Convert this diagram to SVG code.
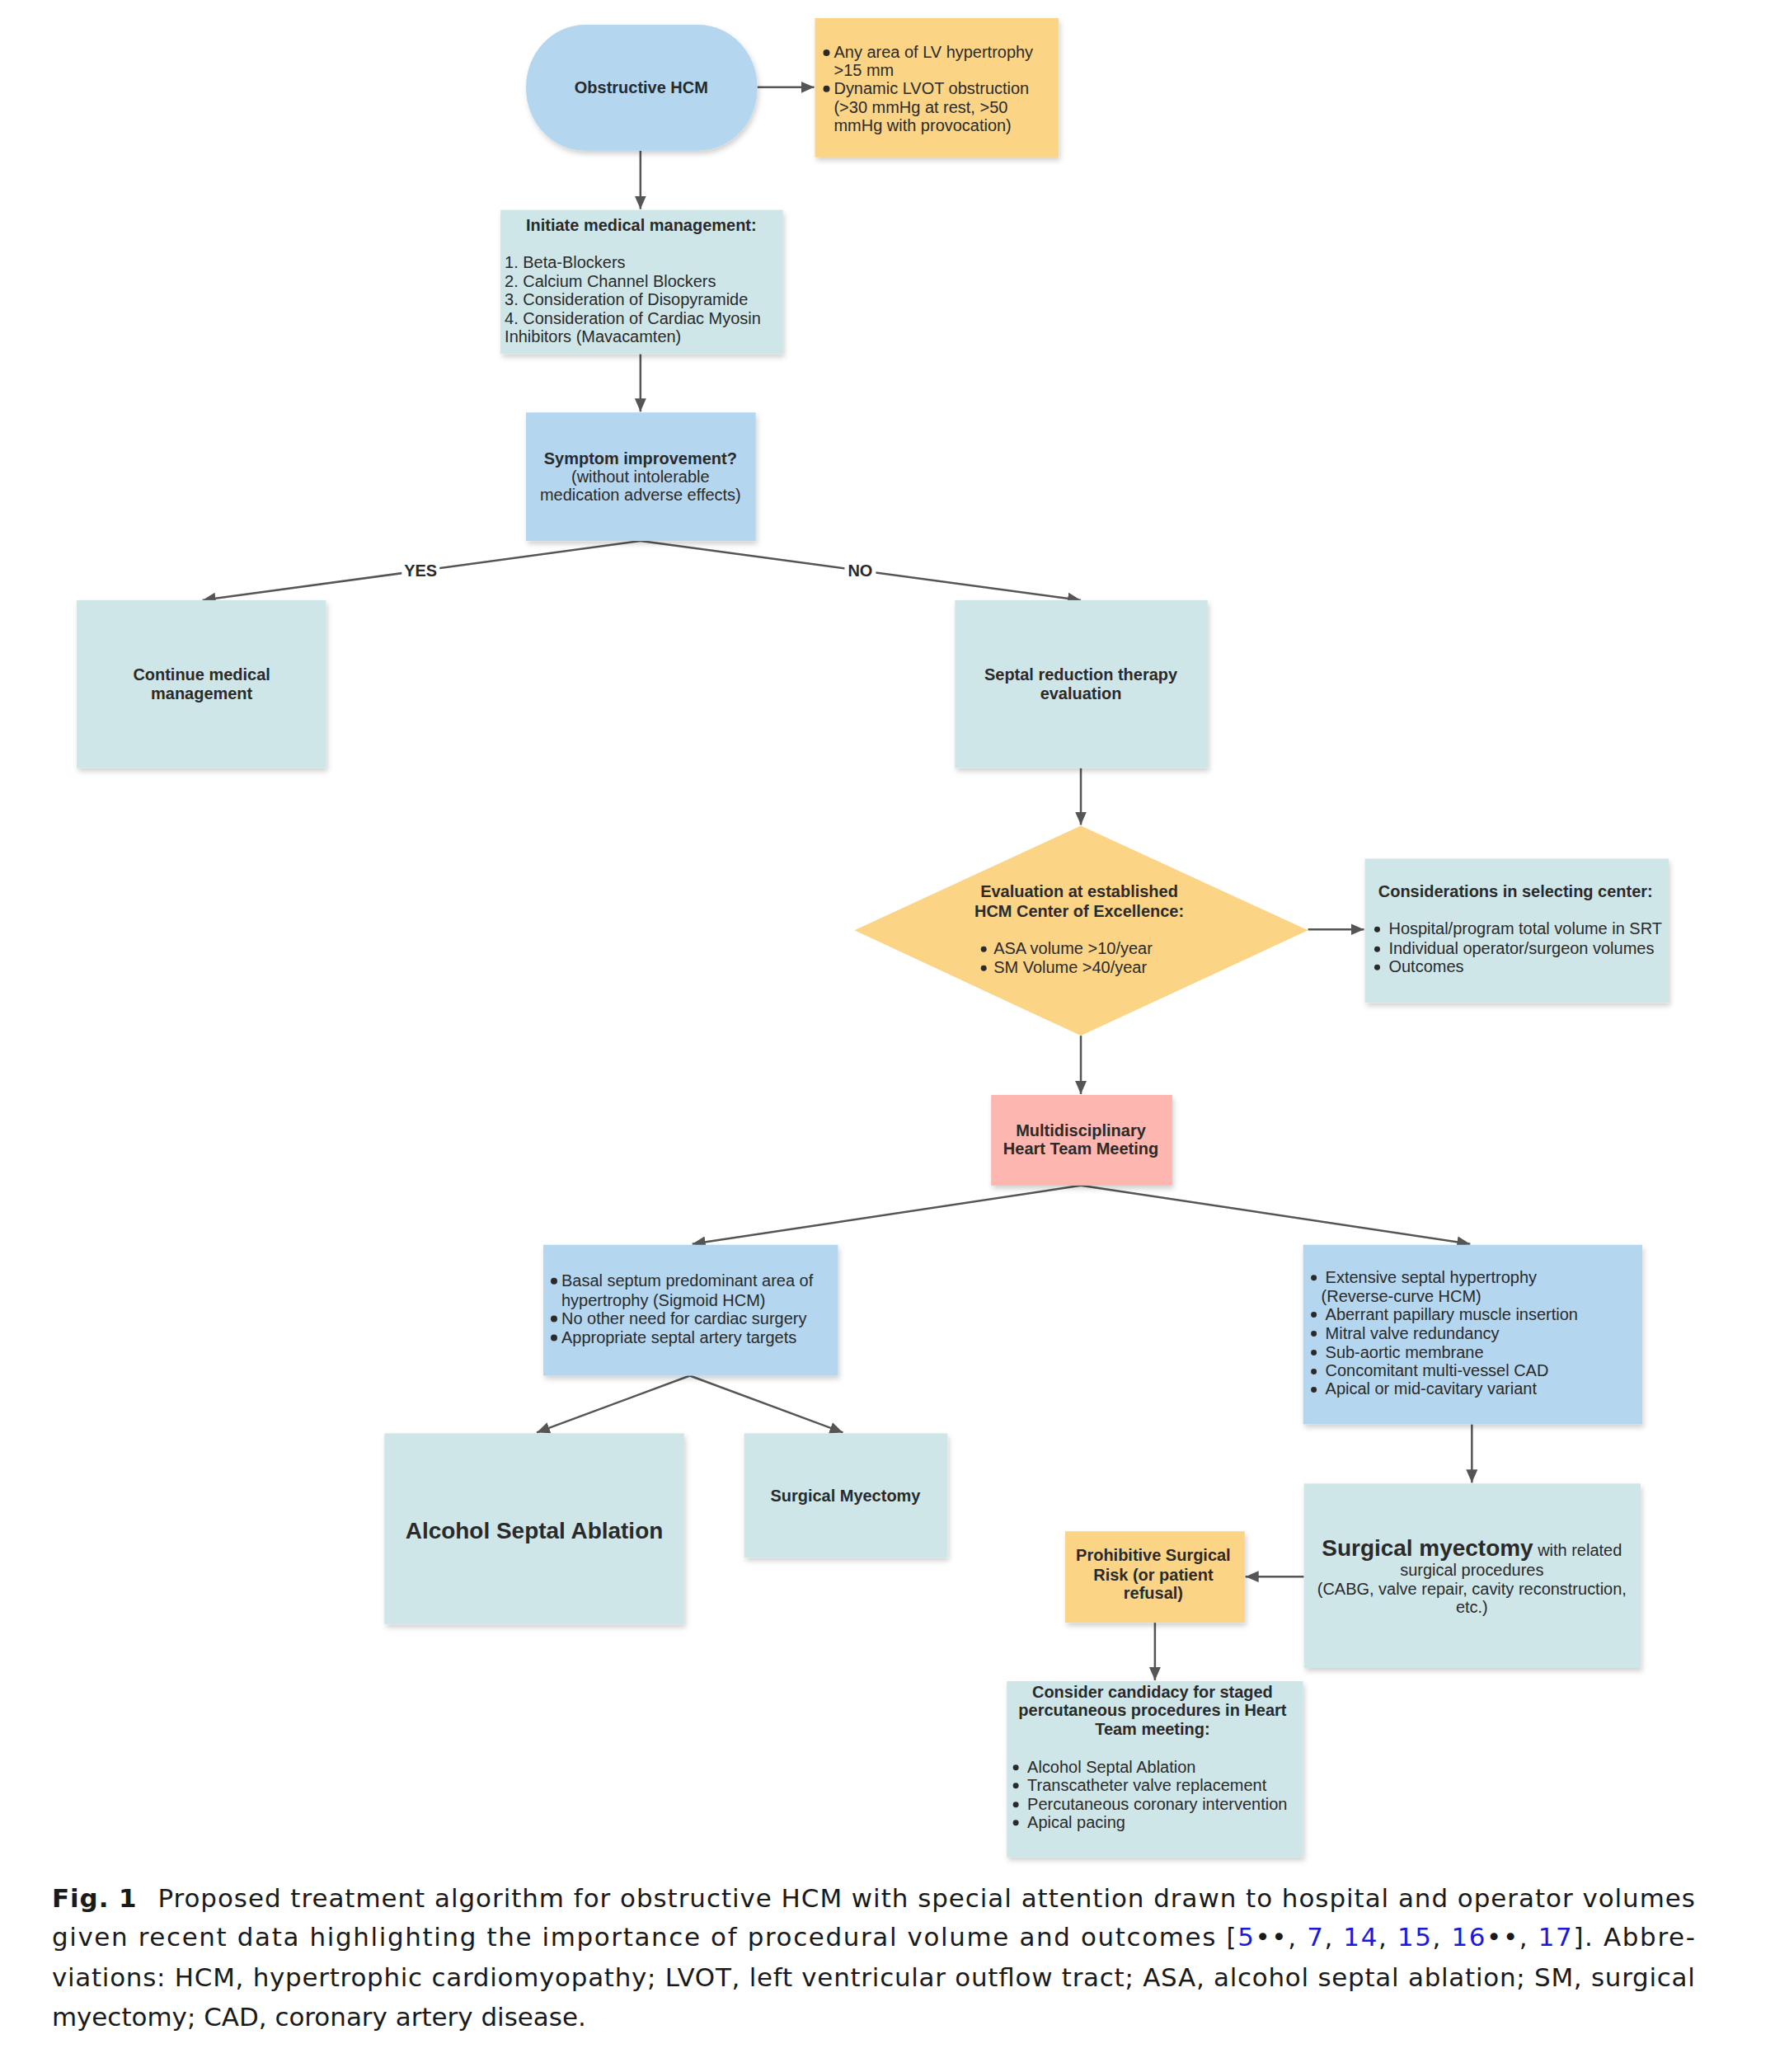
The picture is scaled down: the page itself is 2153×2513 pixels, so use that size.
<svg xmlns="http://www.w3.org/2000/svg" width="2153" height="2513" viewBox="0 0 2153 2513">
<defs>
<filter id="sh" x="-10%" y="-10%" width="125%" height="125%">
<feDropShadow dx="2" dy="4" stdDeviation="3" flood-color="#000" flood-opacity="0.18"/>
</filter>
<marker id="ah" markerUnits="userSpaceOnUse" markerWidth="18" markerHeight="16" refX="16" refY="8" orient="auto">
<path d="M0,1 L16,8 L0,15 Z" fill="#555"/>
</marker>
</defs>
<style>
.b{font-family:"Liberation Sans",Arial,sans-serif;font-weight:bold;font-size:20px;fill:#2a2a2a}
.r{font-family:"Liberation Sans",Arial,sans-serif;font-size:20px;fill:#2a2a2a}
.m{text-anchor:middle}
.blue{fill:#b4d6ef}
.teal{fill:#cfe6e9}
.org{fill:#fbd486}
.sal{fill:#fdb7b0}
.dot{fill:#2a2a2a}
.cn{stroke:#555;stroke-width:2.5;fill:none;marker-end:url(#ah)}
.cap{font-family:"DejaVu Sans",sans-serif;font-size:31px;fill:#1a1a1a}
.ref{fill:#1a1adb}
</style>
<rect width="2153" height="2513" fill="#fff"/>
<g transform="scale(0.9985)">
<g id="connectors">
<path class="cn" d="M920,106 L989,106"/>
<path class="cn" d="M778,183 L778,254"/>
<path class="cn" d="M778,430 L778,500"/>
<path class="cn" d="M778,657 L246,729"/>
<path class="cn" d="M778,657 L1313,729"/>
<path class="cn" d="M1313,933 L1313,1002"/>
<path class="cn" d="M1589,1129 L1657,1129"/>
<path class="cn" d="M1313,1258 L1313,1329"/>
<path class="cn" d="M1313,1440 L841,1511"/>
<path class="cn" d="M1313,1440 L1786,1511"/>
<path class="cn" d="M838,1671 L652,1740"/>
<path class="cn" d="M838,1671 L1024,1740"/>
<path class="cn" d="M1788,1730 L1788,1801"/>
<path class="cn" d="M1584,1915 L1513,1915"/>
<path class="cn" d="M1403,1971 L1403,2041"/>
<g id="label-yes"><rect x="488" y="680" width="46" height="24" fill="#fff"/><text class="b m" x="511" y="700">YES</text></g>
<g id="label-no"><rect x="1026" y="680" width="38" height="24" fill="#fff"/><text class="b m" x="1045" y="700">NO</text></g>
</g>

<g id="obstructive-hcm">
<rect class="blue" x="639" y="30" width="281" height="153" rx="72" ry="76" filter="url(#sh)"/>
<text class="b m" x="779" y="113">Obstructive HCM</text>
</g>

<g id="criteria">
<rect class="org" x="990" y="22" width="296" height="169" filter="url(#sh)"/>
<circle class="dot" cx="1004" cy="64" r="4"/>
<circle class="dot" cx="1004" cy="108" r="4"/>
<text class="r" x="1013" y="70">Any area of LV hypertrophy</text>
<text class="r" x="1013" y="92">&gt;15 mm</text>
<text class="r" x="1013" y="114">Dynamic LVOT obstruction</text>
<text class="r" x="1013" y="137">(&gt;30 mmHg at rest, &gt;50</text>
<text class="r" x="1013" y="159">mmHg with provocation)</text>
</g>

<g id="initiate">
<rect class="teal" x="608" y="255" width="343" height="175" filter="url(#sh)"/>
<text class="b m" x="779" y="280">Initiate medical management:</text>
<text class="r" x="613" y="326">1. Beta-Blockers</text>
<text class="r" x="613" y="348.5">2. Calcium Channel Blockers</text>
<text class="r" x="613" y="371">3. Consideration of Disopyramide</text>
<text class="r" x="613" y="393.5">4. Consideration of Cardiac Myosin</text>
<text class="r" x="613" y="416">Inhibitors (Mavacamten)</text>
</g>

<g id="symptom">
<rect class="blue" x="639" y="501" width="279" height="156" filter="url(#sh)"/>
<text class="b m" x="778" y="564">Symptom improvement?</text>
<text class="r m" x="778" y="586">(without intolerable</text>
<text class="r m" x="778" y="608">medication adverse effects)</text>
</g>

<g id="continue">
<rect class="teal" x="93" y="729" width="303" height="204" filter="url(#sh)"/>
<text class="b m" x="245" y="826">Continue medical</text>
<text class="b m" x="245" y="849">management</text>
</g>

<g id="septal">
<rect class="teal" x="1160" y="729" width="307" height="204" filter="url(#sh)"/>
<text class="b m" x="1313" y="826">Septal reduction therapy</text>
<text class="b m" x="1313" y="849">evaluation</text>
</g>

<g id="center-eval">
<polygon class="org" points="1313,1003 1589,1130 1313,1258 1038,1130"/>
<text class="b m" x="1311" y="1090">Evaluation at established</text>
<text class="b m" x="1311" y="1114">HCM Center of Excellence:</text>
<circle class="dot" cx="1195" cy="1153" r="3.5"/>
<circle class="dot" cx="1195" cy="1176" r="3.5"/>
<text class="r" x="1207" y="1159">ASA volume &gt;10/year</text>
<text class="r" x="1207" y="1182">SM Volume &gt;40/year</text>
</g>

<g id="considerations">
<rect class="teal" x="1658" y="1043" width="369" height="175" filter="url(#sh)"/>
<text class="b m" x="1841" y="1090">Considerations in selecting center:</text>
<circle class="dot" cx="1673" cy="1129" r="3.5"/>
<circle class="dot" cx="1673" cy="1153" r="3.5"/>
<circle class="dot" cx="1673" cy="1175" r="3.5"/>
<text class="r" x="1687" y="1135">Hospital/program total volume in SRT</text>
<text class="r" x="1687" y="1159">Individual operator/surgeon volumes</text>
<text class="r" x="1687" y="1181">Outcomes</text>
</g>

<g id="heart-team">
<rect class="sal" x="1204" y="1330" width="220" height="110" filter="url(#sh)"/>
<text class="b m" x="1313" y="1380">Multidisciplinary</text>
<text class="b m" x="1313" y="1402">Heart Team Meeting</text>
</g>

<g id="asa-criteria">
<rect class="blue" x="660" y="1512" width="358" height="159" filter="url(#sh)"/>
<circle class="dot" cx="673" cy="1556" r="4"/>
<circle class="dot" cx="673" cy="1602" r="4"/>
<circle class="dot" cx="673" cy="1625" r="4"/>
<text class="r" x="682" y="1562">Basal septum predominant area of</text>
<text class="r" x="682" y="1586">hypertrophy (Sigmoid HCM)</text>
<text class="r" x="682" y="1608">No other need for cardiac surgery</text>
<text class="r" x="682" y="1631">Appropriate septal artery targets</text>
</g>

<g id="sm-criteria">
<rect class="blue" x="1583" y="1512" width="412" height="218" filter="url(#sh)"/>
<circle class="dot" cx="1596" cy="1552" r="3.5"/>
<circle class="dot" cx="1596" cy="1597" r="3.5"/>
<circle class="dot" cx="1596" cy="1620" r="3.5"/>
<circle class="dot" cx="1596" cy="1643" r="3.5"/>
<circle class="dot" cx="1596" cy="1666" r="3.5"/>
<circle class="dot" cx="1596" cy="1688" r="3.5"/>
<text class="r" x="1610" y="1558">Extensive septal hypertrophy</text>
<text class="r" x="1605" y="1581">(Reverse-curve HCM)</text>
<text class="r" x="1610" y="1603">Aberrant papillary muscle insertion</text>
<text class="r" x="1610" y="1626">Mitral valve redundancy</text>
<text class="r" x="1610" y="1649">Sub-aortic membrane</text>
<text class="r" x="1610" y="1672">Concomitant multi-vessel CAD</text>
<text class="r" x="1610" y="1694">Apical or mid-cavitary variant</text>
</g>

<g id="asa">
<rect class="teal" x="467" y="1741" width="364" height="232" filter="url(#sh)"/>
<text class="b m" x="649" y="1869" style="font-size:28px">Alcohol Septal Ablation</text>
</g>

<g id="surgical-myectomy">
<rect class="teal" x="904" y="1741" width="247" height="151" filter="url(#sh)"/>
<text class="b m" x="1027" y="1824">Surgical Myectomy</text>
</g>

<g id="myectomy-related">
<rect class="teal" x="1584" y="1802" width="409" height="224" filter="url(#sh)"/>
<text class="b m" x="1788" y="1890"><tspan style="font-size:28px">Surgical myectomy</tspan><tspan class="r" style="font-weight:normal"> with related</tspan></text>
<text class="r m" x="1788" y="1914">surgical procedures</text>
<text class="r m" x="1788" y="1937">(CABG, valve repair, cavity reconstruction,</text>
<text class="r m" x="1788" y="1959">etc.)</text>
</g>

<g id="prohibitive">
<rect class="org" x="1294" y="1860" width="218" height="111" filter="url(#sh)"/>
<text class="b m" x="1401" y="1896">Prohibitive Surgical</text>
<text class="b m" x="1401" y="1920">Risk (or patient</text>
<text class="b m" x="1401" y="1942">refusal)</text>
</g>

<g id="percutaneous">
<rect class="teal" x="1223" y="2042" width="360" height="214" filter="url(#sh)"/>
<text class="b m" x="1400" y="2062">Consider candidacy for staged</text>
<text class="b m" x="1400" y="2084">percutaneous procedures in Heart</text>
<text class="b m" x="1400" y="2107">Team meeting:</text>
<circle class="dot" cx="1234" cy="2147" r="3.5"/>
<circle class="dot" cx="1234" cy="2169" r="3.5"/>
<circle class="dot" cx="1234" cy="2192" r="3.5"/>
<circle class="dot" cx="1234" cy="2214" r="3.5"/>
<text class="r" x="1248" y="2153">Alcohol Septal Ablation</text>
<text class="r" x="1248" y="2175">Transcatheter valve replacement</text>
<text class="r" x="1248" y="2198">Percutaneous coronary intervention</text>
<text class="r" x="1248" y="2220">Apical pacing</text>
</g>

<g id="caption">
<text class="cap" x="63" y="2316" textLength="1996" lengthAdjust="spacing"><tspan font-weight="bold">Fig. 1</tspan><tspan dx="14"> Proposed treatment algorithm for obstructive HCM with special attention drawn to hospital and operator volumes</tspan></text>
<text class="cap" x="63" y="2364" textLength="1996" lengthAdjust="spacing">given recent data highlighting the importance of procedural volume and outcomes [<tspan class="ref">5</tspan>••, <tspan class="ref">7</tspan>, <tspan class="ref">14</tspan>, <tspan class="ref">15</tspan>, <tspan class="ref">16</tspan>••, <tspan class="ref">17</tspan>]. Abbre-</text>
<text class="cap" x="63" y="2413" textLength="1996" lengthAdjust="spacing">viations: HCM, hypertrophic cardiomyopathy; LVOT, left ventricular outflow tract; ASA, alcohol septal ablation; SM, surgical</text>
<text class="cap" x="63" y="2461">myectomy; CAD, coronary artery disease.</text>
</g>
</g>
</svg>
